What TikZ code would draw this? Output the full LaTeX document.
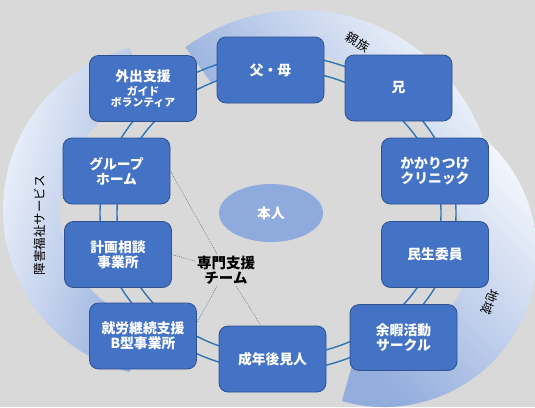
\documentclass[tikz,border=0pt]{standalone}
\usepackage{fontspec}
\setmainfont{Noto Sans CJK JP}
\usetikzlibrary{calc,shapes.geometric}
\definecolor{bg}{HTML}{D9D9D9}
\definecolor{boxfill}{HTML}{4472C4}
\definecolor{boxline}{HTML}{2F528F}
\definecolor{ringc}{HTML}{2E75B6}
\definecolor{honin}{HTML}{8FAADC}
\definecolor{crsA}{HTML}{F7F9FD}
\definecolor{crsB}{HTML}{93ADDD}
\definecolor{dotc}{HTML}{7384A3}
\begin{document}
\begin{tikzpicture}[x=1pt,y=-1pt,
  box/.style={draw=boxline, line width=0.8pt, fill=boxfill, rounded corners=9pt,
    minimum width=107pt, minimum height=66pt, inner sep=2pt, align=center,
    text=white, font=\fontsize{13.8}{17}\selectfont\bfseries},
  ringline/.style={draw=ringc, line width=1.4pt},
  dotline/.style={draw=dotc, line width=0.7pt, dash pattern=on 1pt off 1.2pt},
  arclbl/.style={font=\fontsize{12.5}{14}\selectfont, text=black, inner sep=0pt},
  teamlbl/.style={font=\fontsize{14.5}{17}\selectfont\bfseries, text=black, align=center, inner sep=2pt}
]
\useasboundingbox (0,0) rectangle (535,407);
\fill[bg] (0,0) rectangle (535,407);

% crescents
\shade[top color=crsA, bottom color=crsB, shading angle=75]
  ($(170,210)+(256:167)$) arc[start angle=256, end angle=104, radius=167]
  -- ($(177,210)+(104:117)$) arc[start angle=104, end angle=256, radius=117] -- cycle;
\shade[top color=crsA, bottom color=crsB, shading angle=-45]
  ($(384,254)+(-60:153)$) arc[start angle=-60, end angle=106, radius=153]
  -- ($(384,254)+(106:85)$) arc[start angle=106, end angle=-60, radius=85] -- cycle;
\shade[top color=crsA, bottom color=crsB, shading angle=-50]
  ($(300,205)+(234:195)$) arc[start angle=234, end angle=345, radius=195]
  -- ($(300,205)+(345:150)$) arc[start angle=345, end angle=234, radius=150] -- cycle;

% double ring
\draw[ringline] (278,213) ellipse[x radius=178, y radius=158];
\draw[ringline] (279,213) ellipse[x radius=162, y radius=143];

% centre
\node[ellipse, fill=honin, minimum width=104pt, minimum height=58pt, inner sep=0pt,
  text=white, font=\fontsize{13.8}{17}\selectfont\bfseries] (hon) at (271,213) {本人};

% boxes
\node[box] (fubo) at (270.5,70) {父・母};
\node[box] (ani) at (398.5,88) {兄};
\node[box] (cli) at (435,171) {かかりつけ\\[-2pt]クリニック};
\node[box] (min) at (435,254.5) {民生委員};
\node[box] (yoka) at (403.5,337.5) {余暇活動\\[-2pt]サークル};
\node[box] (sei) at (272.5,359) {成年後見人};
\node[box] (syu) at (143,336) {就労継続支援\\[-2pt]B型事業所};
\node[box] (kei) at (118,254.5) {計画相談\\[-2pt]事業所};
\node[box] (grp) at (116.5,171) {グループ\\[-2pt]ホーム};
\node[box] (gai) at (143,88.5) {外出支援\\[-3pt]{\fontsize{10.8}{12}\selectfont ガイド}\\[-6pt]{\fontsize{10.8}{12}\selectfont ボランティア}};

% team
\node[teamlbl] (team) at (226,270) {専門支援\\[-2pt]チーム};
\draw[dotline] (team) -- (grp.east);
\draw[dotline] (team) -- (kei.east);
\draw[dotline] (team) -- (syu.14);
\draw[dotline] (team) -- (sei.109);

% arc labels
\node[arclbl, rotate=90] (lsvc) at (40,225) {障害福祉サービス};
\node[arclbl, rotate=-30] (lfam) at (358,42) {親族};
\node[arclbl, rotate=-112] (lreg) at (490,302) {地域};
\end{tikzpicture}
\end{document}
